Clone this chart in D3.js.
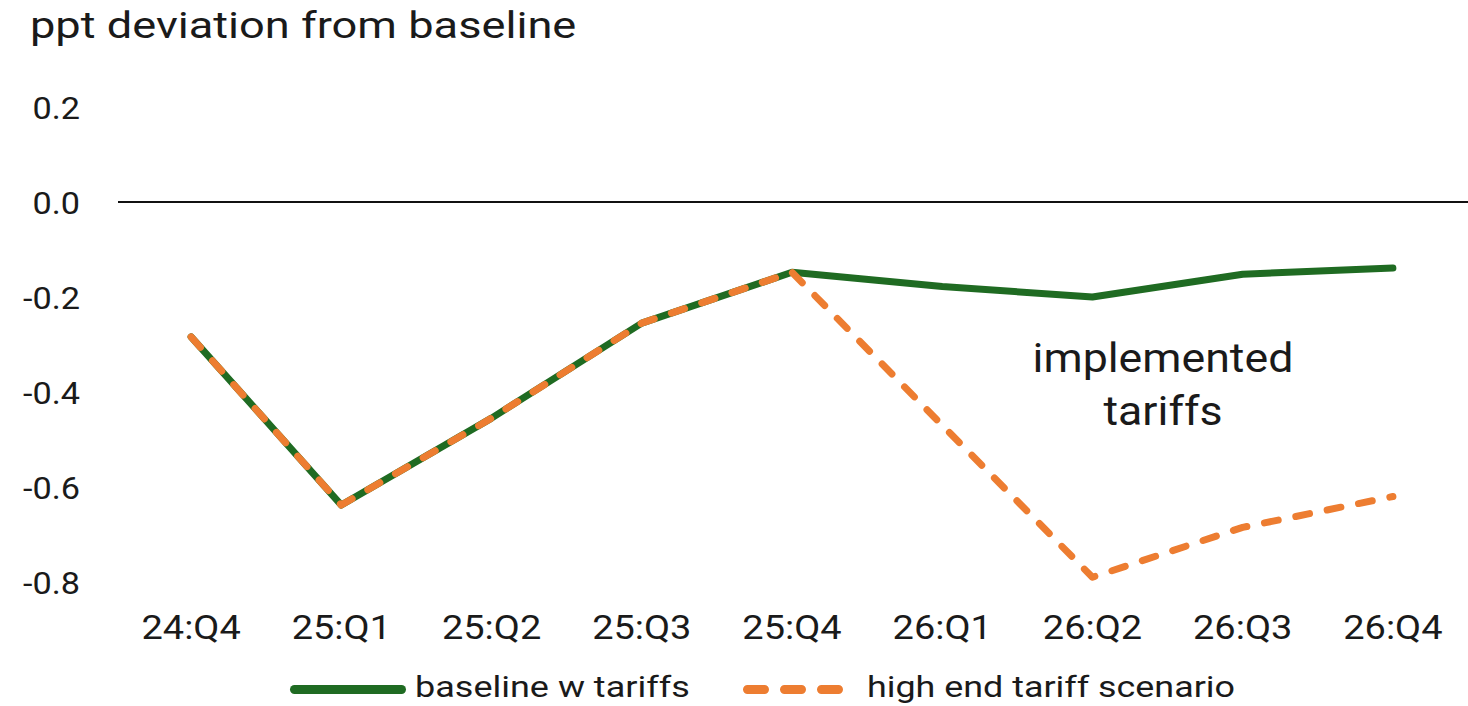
<!DOCTYPE html>
<html><head><meta charset="utf-8">
<script src="https://cdn.jsdelivr.net/npm/d3@7"></script>
<style>body{margin:0;background:#fff;} text{font-family:Roboto, "Liberation Sans", sans-serif;fill:#1a1a1a;}</style>
</head><body>
<svg id="c" width="1468" height="706"></svg>
<script>
const categories = ["24:Q4","25:Q1","25:Q2","25:Q3","25:Q4","26:Q1","26:Q2","26:Q3","26:Q4"];
const baselineTariffs = [-0.284,-0.638,-0.455,-0.255,-0.148,-0.178,-0.200,-0.152,-0.139];
const highEndScenario = [-0.284,-0.638,-0.455,-0.255,-0.148,-0.470,-0.790,-0.685,-0.620];
const yTicks = [0.2,0.0,-0.2,-0.4,-0.6,-0.8];
const seriesNames = ["baseline w tariffs","high end tariff scenario"];
const titleText = "ppt deviation from baseline";
const annotation = ["implemented","tariffs"];

const green = "#1f6b22", orange = "#ed7d31";
const svg = d3.select("#c");
const x = d3.scaleBand().domain(categories).range([116,1468]).padding(0);
const y = d3.scaleLinear().domain([-0.8,0.2]).range([582,107]);
const ff = "Roboto, 'Liberation Sans', sans-serif";

function stretch(sel,k){
  sel.each(function(){
    const L=this.getComputedTextLength();
    this.setAttribute("textLength",(L*k).toFixed(1));
    this.setAttribute("lengthAdjust","spacingAndGlyphs");
  });
}

stretch(svg.append("text").attr("x",30).attr("y",38).attr("font-size",36).text(titleText),1.255);

const yAxis = svg.append("g").attr("transform","translate(80,0)")
  .call(d3.axisLeft(y).tickValues(yTicks).tickFormat(d=>d3.format(".1f")(d).replace("\u2212","-")).tickSize(0).tickPadding(0));
yAxis.select(".domain").remove();
yAxis.selectAll("text").attr("font-size",32).attr("text-anchor","end").attr("dy","0.35em").style("font-family",ff).attr("fill","#1a1a1a");
stretch(yAxis.selectAll("text"),1.07);

svg.append("line").attr("x1",118).attr("x2",1468).attr("y1",y(0)).attr("y2",y(0)).attr("stroke","#111").attr("stroke-width",2);

const xAxis = svg.append("g").attr("transform","translate(0,627)")
  .call(d3.axisBottom(x).tickSize(0).tickPadding(0));
xAxis.select(".domain").remove();
xAxis.selectAll("text").attr("font-size",33).attr("dy","0.35em").style("font-family",ff).attr("fill","#1a1a1a");
stretch(xAxis.selectAll("text"),1.15);

const line = d3.line().x((d,i)=>x(categories[i])+x.bandwidth()/2).y(d=>y(d));
svg.append("path").datum(baselineTariffs).attr("d",line).attr("fill","none").attr("stroke",green).attr("stroke-width",7).attr("stroke-linejoin","round").attr("stroke-linecap","round");
svg.append("path").datum(highEndScenario).attr("d",line).attr("fill","none").attr("stroke",orange).attr("stroke-width",7).attr("stroke-dasharray","14,18").attr("stroke-linejoin","round").attr("stroke-linecap","round");

annotation.forEach((t,i)=>{
  stretch(svg.append("text").attr("x",1163).attr("y",372+53*i).attr("font-size",41).attr("text-anchor","middle").text(t),1.09);
});

const leg = svg.append("g");
leg.append("line").attr("x1",294.5).attr("x2",401.5).attr("y1",689.5).attr("y2",689.5).attr("stroke",green).attr("stroke-width",9).attr("stroke-linecap","round");
stretch(leg.append("text").attr("x",415).attr("y",697).attr("font-size",30).text(seriesNames[0]),1.2);
leg.append("line").attr("x1",747.5).attr("x2",838.5).attr("y1",689.5).attr("y2",689.5).attr("stroke",orange).attr("stroke-width",9).attr("stroke-linecap","round").attr("stroke-dasharray","17,20");
stretch(leg.append("text").attr("x",867).attr("y",697).attr("font-size",30).text(seriesNames[1]),1.195);
</script>
</body></html>
